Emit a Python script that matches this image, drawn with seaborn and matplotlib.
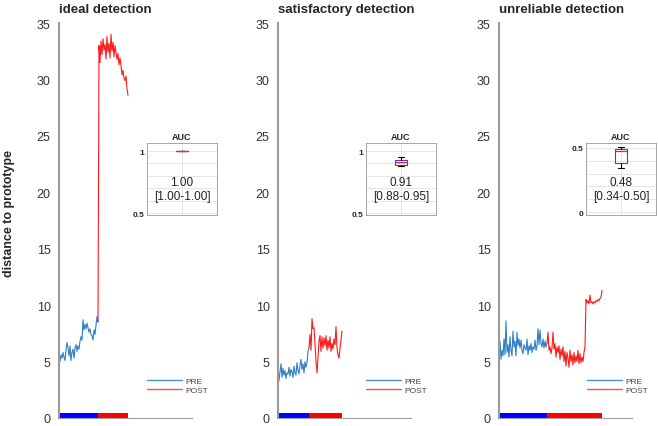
import numpy as np
import seaborn as sns
import matplotlib.pyplot as plt
from matplotlib.lines import Line2D

sns.set_theme(style='white')
plt.rcParams['font.family'] = ['Liberation Sans', 'DejaVu Sans']

titles = ['ideal detection', 'satisfactory detection', 'unreliable detection']

# distance to prototype (one value per sample)
pre_ideal = [5.2, 5.0, 5.6, 5.3, 5.8, 5.4, 5.1, 6.0, 6.7, 6.2, 5.5, 6.4, 5.1, 5.8, 6.1,
             5.3, 6.2, 6.5, 5.9, 6.4, 6.1, 6.8, 7.2, 6.9, 8.7, 7.8, 8.3, 7.9, 8.4, 8.0,
             7.6, 7.9, 7.4, 7.3, 6.9, 7.8, 7.4, 8.2, 9.0, 8.5]
post_ideal = [33.0, 31.5, 33.4, 32.2, 33.6, 32.6, 33.1, 31.8, 33.8, 32.4, 33.2, 31.9, 34.0,
              32.5, 33.3, 32.0, 33.0, 32.4, 31.8, 32.3, 31.3, 31.9, 31.2, 30.4, 30.8, 30.1,
              29.9, 30.3, 29.2, 28.6]

pre_satis = [4.6, 3.3, 4.1, 4.8, 3.6, 4.4, 3.8, 4.2, 3.5, 4.0, 3.9, 4.5, 3.7, 4.3, 4.1, 3.6,
             4.6, 4.0, 3.8, 4.9, 4.2, 3.9, 4.7, 5.2, 4.3, 4.8, 4.0, 5.0, 4.5, 4.9, 5.9, 6.2]
post_satis = [7.4, 6.0, 8.8, 7.9, 8.0, 6.6, 5.0, 4.0, 5.4, 6.8, 7.3, 5.9, 7.2, 6.2, 7.1, 6.4,
              7.3, 6.0, 6.9, 6.2, 7.2, 5.9, 6.6, 6.1, 7.0, 6.5, 8.1, 6.2, 5.6, 5.3, 6.2, 6.9, 7.7]

pre_unrel = [5.0, 6.8, 5.2, 6.0, 5.5, 7.0, 5.6, 8.6, 5.8, 6.5, 5.4, 7.2, 6.0, 5.5, 7.7, 6.3,
             6.8, 5.5, 7.6, 6.4, 7.0, 6.2, 6.9, 6.0, 5.7, 6.5, 6.2, 6.0, 7.0, 5.6, 6.4, 6.0,
             6.6, 5.8, 6.3, 6.1, 6.9, 6.0, 6.4, 7.9, 6.5, 7.8, 6.6, 6.3, 7.0, 6.2, 6.8, 6.3, 6.6]
post_unrel = [7.6, 6.0, 6.3, 5.7, 6.2, 7.6, 6.1, 6.6, 5.4, 6.3, 5.8, 6.4, 5.2, 6.1, 5.5, 6.3,
              5.0, 5.9, 4.6, 5.8, 5.3, 4.5, 6.0, 5.0, 5.6, 4.7, 5.8, 4.9, 5.5, 5.0, 6.0, 4.8,
              5.7, 4.9, 5.4, 5.0, 5.8, 6.3,
              10.5, 10.2, 10.4, 10.1, 10.9, 10.2, 10.3, 10.1, 10.3, 10.2, 10.4, 10.3, 10.5,
              10.4, 10.6, 10.7, 11.3]

pre_all = [pre_ideal, pre_satis, pre_unrel]
post_all = [post_ideal, post_satis, post_unrel]

# AUC values behind the inset boxplots
auc_ideal = [1.0, 1.0, 1.0, 1.0, 1.0, 1.0, 1.0]
auc_satis = [0.88, 0.89, 0.89, 0.90, 0.91, 0.92, 0.93, 0.93, 0.95]
auc_unrel = [0.34, 0.36, 0.38, 0.45, 0.48, 0.49, 0.49, 0.50, 0.51]
auc_all = [auc_ideal, auc_satis, auc_unrel]
auc_median = ['1.00', '0.91', '0.48']
auc_range = ['[1.00-1.00]', '[0.88-0.95]', '[0.34-0.50]']
auc_lims = [(0.484, 1.065), (0.484, 1.065), (-0.023, 0.539)]
auc_ticks = [np.arange(0.5, 1.01, 0.1), np.arange(0.5, 1.01, 0.1), np.arange(0.0, 0.51, 0.1)]

pre_col = '#2f7fc6'
post_col = '#ff1a1a'
box_col = '#3c3cff'

fig = plt.figure(figsize=(6.58, 4.27), dpi=100)
lefts = [59, 278, 499]
inset_lefts = [147, 366, 586]

for i in range(3):
    ax = fig.add_axes([lefts[i] / 658, 8 / 427, 133 / 658, 395 / 427])
    pre = np.array(pre_all[i])
    post = np.array([pre_all[i][-1]] + post_all[i])
    n_pre = len(pre)
    x_pre = np.arange(n_pre)
    x_post = np.arange(n_pre - 1, n_pre - 1 + len(post))

    sns.lineplot(x=x_pre, y=pre, ax=ax, color=pre_col, linewidth=0.8)
    sns.lineplot(x=x_post, y=post, ax=ax, color=post_col, linewidth=0.8)

    # phase bar along the bottom
    ax.fill_between([0, n_pre - 1], 0, 0.45, color='#0000ff', lw=0)
    ax.fill_between([n_pre - 1, x_post[-1]], 0, 0.45, color='#ff0000', lw=0)

    ax.set_xlim(0, 133)
    ax.set_ylim(0, 35)
    ax.set_yticks(range(0, 36, 5))
    if i == 1:
        ax.set_xticks([66])
    else:
        ax.set_xticks([])
    ax.set_xticklabels([])
    ax.set_xlabel('')
    ax.set_ylabel('')
    ax.tick_params(axis='both', direction='in', length=3, width=0.8, color='#999999',
                   labelsize=9, labelcolor='#333333', pad=6)
    for s in ['top', 'right']:
        ax.spines[s].set_visible(False)
    ax.spines['left'].set_color('#9a9a9a')
    ax.spines['left'].set_linewidth(1.5)
    ax.spines['bottom'].set_color('#a0a0a0')
    ax.spines['bottom'].set_linewidth(0.8)
    ax.set_title(titles[i], loc='left', fontsize=9.5, fontweight='bold', pad=8)

    handles = [Line2D([], [], color='#4a90d0', lw=1.0), Line2D([], [], color='#ff5050', lw=1.0)]
    leg = ax.legend(handles, ['PRE', 'POST'], loc='center left', bbox_to_anchor=(0.66, 0.082),
                    frameon=False, fontsize=6, handlelength=4.2, handletextpad=0.4,
                    labelspacing=0.15, borderaxespad=0, borderpad=0)
    for t in leg.get_texts():
        t.set_color('#444444')

    # AUC inset
    iax = fig.add_axes([inset_lefts[i] / 658, (427 - 216) / 427, 70 / 658, 72 / 427])
    sns.boxplot(y=auc_all[i], ax=iax, fill=False, color=box_col, width=0.16,
                linewidth=0.8, showfliers=False,
                medianprops={'color': '#ff2020', 'linewidth': 0.9},
                whiskerprops={'color': 'black'}, capprops={'color': 'black'})
    for p in iax.patches:
        p.set_edgecolor(box_col)
        p.set_facecolor('none')
    iax.set_xlim(-0.5, 0.5)
    iax.set_ylim(*auc_lims[i])
    ticks = auc_ticks[i]
    iax.set_yticks(ticks)
    iax.set_yticklabels(['%g' % ticks[0]] + [''] * (len(ticks) - 2) + ['%g' % ticks[-1]])
    iax.set_xticks([0])
    iax.set_xticklabels([''])
    iax.set_ylabel('')
    iax.grid(True, color='#e2e2e2', linewidth=0.6)
    iax.set_axisbelow(True)
    iax.tick_params(axis='both', length=0, labelsize=6, pad=2)
    for lbl in iax.get_yticklabels():
        lbl.set_fontweight('bold')
    for s in iax.spines.values():
        s.set_color('#999999')
        s.set_linewidth(0.6)
    iax.set_title('AUC', fontsize=6.5, fontweight='bold', pad=3)
    iax.text(0.5, 0.46, auc_median[i], transform=iax.transAxes, ha='center', va='center',
             fontsize=8.5, color='#222222')
    iax.text(0.5, 0.26, auc_range[i], transform=iax.transAxes, ha='center', va='center',
             fontsize=8.5, color='#222222')

fig.text(0.013, 0.5, 'distance to prototype', rotation=90, ha='center', va='center',
         fontsize=9, fontweight='bold')

fig.savefig('out.png', dpi=100)
